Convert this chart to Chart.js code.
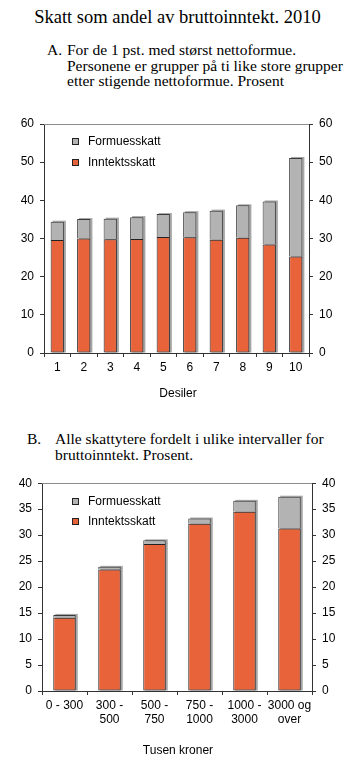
<!DOCTYPE html>
<html>
<head>
<meta charset="utf-8">
<script src="https://cdn.jsdelivr.net/npm/chart.js@4"></script>
<style>
  html, body { margin: 0; padding: 0; background: #fff; }
  body { width: 355px; height: 782px; position: relative; overflow: hidden; }
  .serif { font-family: "Liberation Serif", "Times New Roman", serif; color: #000; position: absolute; white-space: nowrap; }
  .sans { font-family: "Liberation Sans", Arial, sans-serif; color: #000; position: absolute; white-space: nowrap; font-size: 12px; line-height: 14px; }
  .cv { position: absolute; left: 0; }
  .leg { position: absolute; font-family: "Liberation Sans", Arial, sans-serif; font-size: 12px; line-height: 14px; color: #000; white-space: nowrap; }
  .leg i { position: absolute; left: 0; top: 4px; width: 5px; height: 5px; border: 1px solid #222; }
  .leg span { position: absolute; left: 16px; top: 0; }
</style>
</head>
<body>
<div class="serif" style="left:0;width:355px;text-align:center;top:8px;font-size:18.5px;line-height:18.5px;">Skatt som andel av bruttoinntekt. 2010</div>

<div class="serif" style="left:47px;top:42px;font-size:15.5px;line-height:15.5px;">A.</div>
<div class="serif" style="left:67px;top:42px;font-size:15.5px;line-height:15.5px;">For de 1 pst. med størst nettoformue.<br>Personene er grupper på ti like store grupper<br>etter stigende nettoformue. Prosent</div>

<div class="cv" style="top:110px;"><canvas id="c1" width="355" height="300"></canvas></div>
<div class="sans" style="left:0;width:356px;text-align:center;top:386px;">Desiler</div>

<div class="serif" style="left:27px;top:431px;font-size:15.5px;line-height:15.5px;">B.</div>
<div class="serif" style="left:55px;top:431px;font-size:15.5px;line-height:15.5px;">Alle skattytere fordelt i ulike intervaller for<br>bruttoinntekt. Prosent.</div>

<div class="cv" style="top:470px;"><canvas id="c2" width="355" height="312"></canvas></div>
<div class="sans" style="left:0;width:356px;text-align:center;top:743px;">Tusen kroner</div>

<div class="leg" style="left:72px;top:134px;"><i style="background:#b3b3b3"></i><span>Formuesskatt</span></div>
<div class="leg" style="left:72px;top:155px;"><i style="background:#e8623a"></i><span>Inntektsskatt</span></div>
<div class="leg" style="left:72px;top:494px;"><i style="background:#b3b3b3"></i><span>Formuesskatt</span></div>
<div class="leg" style="left:72px;top:514px;"><i style="background:#e8623a"></i><span>Inntektsskatt</span></div>

<script>
// ---- Data ----
const seriesNames = ['Inntektsskatt', 'Formuesskatt'];

// Panel A: deciles
const decileLabels = ['1', '2', '3', '4', '5', '6', '7', '8', '9', '10'];
const decileIncomeTax = [29.6, 30.0, 29.8, 29.9, 30.4, 30.3, 29.7, 30.2, 28.4, 25.3];
const decileWealthTax = [4.8, 5.1, 5.4, 5.7, 6.0, 6.6, 7.6, 8.5, 11.3, 25.8];
const decileTicks = [0, 10, 20, 30, 40, 50, 60];

// Panel B: gross income intervals (thousand NOK)
const incomeLabels = [['0 - 300'], ['300 -', '500'], ['500 -', '750'], ['750 -', '1000'], ['1000 -', '3000'], ['3000 og', 'over']];
const incomeIncomeTax = [14.1, 23.4, 28.3, 32.2, 34.5, 31.3];
const incomeWealthTax = [0.55, 0.5, 0.7, 1.0, 2.1, 6.1];
const incomeTicks = [0, 5, 10, 15, 20, 25, 30, 35, 40];

// ---- Styling ----
const ORANGE = '#e8623a';
const GREY = '#b3b3b3';
const EDGE = '#222222';
const AXIS = '#333333';
const FONT = { family: '"Liberation Sans", Arial, sans-serif', size: 12 };

const decorPlugin = {
  id: 'decor',
  beforeDatasetsDraw(chart) {
    const ctx = chart.ctx;
    ctx.save();
    ctx.fillStyle = '#a6a6a6';
    chart.data.datasets.forEach((ds, i) => {
      const meta = chart.getDatasetMeta(i);
      meta.data.forEach(el => {
        const top = Math.min(el.y, el.base);
        const h = Math.abs(el.base - el.y);
        ctx.fillRect(el.x - el.width / 2 + 2, top - 1, el.width, h + 1);
      });
    });
    ctx.restore();
  },
  afterDraw(chart) {
    const a = chart.chartArea;
    const ctx = chart.ctx;
    ctx.save();
    ctx.strokeStyle = '#8c8c8c';
    ctx.lineWidth = 1;
    ctx.beginPath();
    ctx.moveTo(a.left, Math.round(a.top) + 0.5);
    ctx.lineTo(a.right, Math.round(a.top) + 0.5);
    ctx.stroke();
    ctx.restore();
  }
};

function yScale(pos, ticks, w) {
  return {
    position: pos,
    stacked: pos === 'left',
    min: ticks[0],
    max: ticks[ticks.length - 1],
    afterBuildTicks(s) { s.ticks = ticks.map(v => ({ value: v })); },
    ticks: { color: '#000', font: FONT, padding: 6 },
    grid: { drawOnChartArea: false, drawTicks: true, tickLength: 4, tickColor: AXIS, tickWidth: 1 },
    border: { display: true, color: AXIS, width: 1 },
    afterFit(s) { s.width = w; }
  };
}

function makeChart(id, labels, inc, wealth, ticks, pad, leftW, rightW, xH) {
  return new Chart(document.getElementById(id), {
    type: 'bar',
    data: {
      labels: labels,
      datasets: [
        { label: seriesNames[0], data: inc, backgroundColor: ORANGE, borderColor: EDGE, borderWidth: 1, borderSkipped: false },
        { label: seriesNames[1], data: wealth, backgroundColor: GREY, borderColor: '#3a3a3a', borderWidth: 1, borderSkipped: 'bottom' }
      ]
    },
    options: {
      responsive: false,
      animation: false,
      devicePixelRatio: 1,
      layout: { padding: pad },
      datasets: { bar: { barPercentage: 0.5, categoryPercentage: 1.0 } },
      plugins: { legend: { display: false }, tooltip: { enabled: false }, title: { display: false } },
      scales: {
        x: {
          stacked: true,
          ticks: { color: '#000', font: FONT, padding: 3, maxRotation: 0, autoSkip: false },
          grid: { offset: true, drawOnChartArea: false, drawTicks: true, tickLength: 4, tickColor: AXIS },
          border: { display: true, color: AXIS, width: 1 },
          afterFit(s) { s.height = xH; }
        },
        y: yScale('left', ticks, leftW),
        y2: yScale('right', ticks, rightW)
      }
    },
    plugins: [decorPlugin]
  });
}

makeChart('c1', decileLabels, decileIncomeTax, decileWealthTax, decileTicks,
  { top: 14, bottom: 27, left: 0, right: 0 }, 44, 46, 30);
makeChart('c2', incomeLabels, incomeIncomeTax, incomeWealthTax, incomeTicks,
  { top: 9, bottom: 51, left: 0, right: 0 }, 42, 43, 40);
</script>
</body>
</html>
